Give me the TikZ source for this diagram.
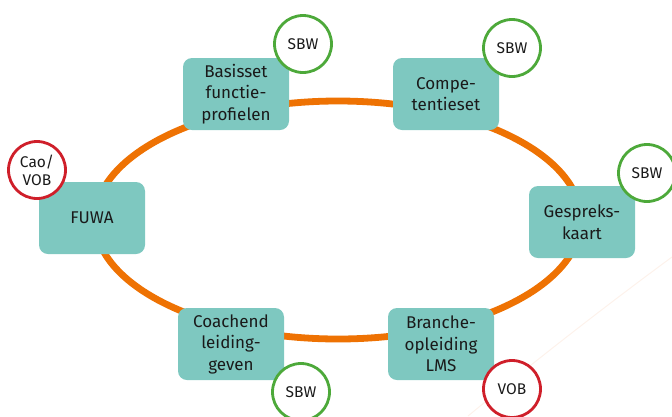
\documentclass[tikz,border=0pt]{standalone}
\usepackage{fontspec}
\setmainfont{Fira Sans}
\usetikzlibrary{positioning}

\definecolor{teal}{HTML}{7EC8C0}
\definecolor{oranje}{HTML}{EE7203}
\definecolor{groen}{HTML}{4DA93A}
\definecolor{rood}{HTML}{CF1F2A}
\definecolor{tekst}{HTML}{1A1A1A}
\definecolor{vaag}{HTML}{FDF2EB}

\tikzset{
  blok/.style={fill=teal, rounded corners=9pt, minimum width=106pt, minimum height=72pt,
    align=center, text=tekst, inner sep=2pt,
    font=\fontsize{17}{21.5}\selectfont},
  ring/.style={circle, fill=white, line width=2.8pt, minimum size=57pt, inner sep=0pt,
    align=center, text=tekst, font=\fontsize{15.5}{18}\selectfont},
  sbw/.style={ring, draw=groen},
  vob/.style={ring, draw=rood}
}

\begin{document}
\begin{tikzpicture}[x=1pt, y=-1pt]
% define canvas
\useasboundingbox (0,0) rectangle (672,416);

% faint background arc
\draw[vaag, line width=1pt] (672,257) .. controls (600,310) and (530,365) .. (468,416);

% the cycle
\draw[oranje, line width=6.8pt] (338,220) ellipse [x radius=243pt, y radius=119pt];

% the steps
\node[blok] (fuwa)      at (92,218)  {FUWA};
\node[blok] (basisset)  at (236,94)  {Basisset\\functie-\\profielen};
\node[blok] (compe)     at (446,94)  {Compe-\\tentieset};
\node[blok] (gesprek)   at (582,222) {Gespreks-\\kaart};
\node[blok] (branche)   at (441,344) {Branche-\\opleiding\\LMS};
\node[blok] (coachend)  at (231,344) {Coachend\\leiding-\\geven};

% the owners
\node[vob] (caovob)   at (37,170)  {Cao/\\VOB};
\node[sbw] (sbwbasis) at (303,44)  {SBW};
\node[sbw] (sbwcompe) at (512,48)  {SBW};
\node[sbw] (sbwgespr) at (647,173) {SBW};
\node[vob] (vobbranc) at (512,389) {VOB};
\node[sbw] (sbwcoach) at (301,392) {SBW};

\end{tikzpicture}
\end{document}
